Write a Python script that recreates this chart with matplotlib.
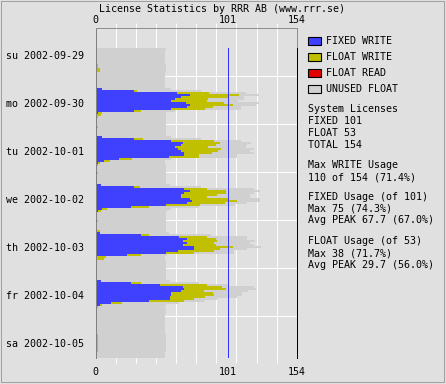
import numpy as np
import matplotlib.pyplot as plt
from matplotlib.patches import Rectangle

W, H = 446, 384

days = ["su 2002-09-29", "mo 2002-09-30", "tu 2002-10-01", "we 2002-10-02",
        "th 2002-10-03", "fr 2002-10-04", "sa 2002-10-05"]
first_hour = 10  # hourly samples start sunday 10:00

fixed_licenses = 101
float_licenses = 53

# licenses in use per hour, one line per day
fixed_write = [
    1, 0, 0, 0, 0, 0, 0, 0, 1, 1, 1, 1, 0, 0,  # su 10-23
    0, 0, 0, 0, 0, 0, 5, 29, 62, 72, 65, 61, 58, 69, 72, 70, 58, 29, 2, 1, 1, 1, 1, 1,
    1, 1, 1, 1, 1, 1, 5, 29, 58, 67, 65, 61, 63, 65, 68, 68, 56, 18, 6, 2, 1, 1, 1, 1,
    1, 1, 1, 1, 1, 1, 4, 29, 68, 72, 68, 65, 65, 72, 74, 70, 54, 27, 5, 2, 1, 1, 1, 1,
    1, 1, 1, 1, 1, 1, 3, 35, 64, 70, 67, 70, 67, 75, 75, 63, 54, 24, 1, 1, 1, 1, 1, 1,
    1, 1, 1, 1, 1, 1, 4, 27, 49, 67, 68, 65, 58, 58, 57, 57, 41, 12, 3, 1, 1, 1, 1, 0,
    0, 0, 0, 0, 0, 0, 0, 0, 0, 1, 1, 1, 1, 1, 1, 1, 1, 1, 0, 0, 0,  # sa 0-20
]
float_write = [
    0, 1, 1, 1, 1, 1, 1, 0, 1, 1, 2, 2, 0, 0,
    0, 0, 1, 0, 0, 0, 0, 3, 25, 38, 36, 25, 27, 29, 33, 20, 26, 6, 3, 3, 1, 0, 0, 0,
    0, 1, 0, 0, 0, 0, 0, 7, 33, 28, 27, 25, 33, 29, 21, 11, 23, 10, 5, 1, 1, 0, 0, 0,
    1, 0, 0, 0, 0, 0, 0, 5, 17, 28, 32, 28, 20, 30, 34, 29, 26, 14, 4, 2, 0, 0, 0, 0,
    1, 0, 0, 0, 0, 2, 0, 6, 21, 22, 26, 21, 25, 30, 20, 28, 21, 11, 7, 5, 0, 0, 0, 0,
    0, 0, 0, 0, 0, 0, 0, 8, 36, 30, 32, 18, 32, 33, 27, 18, 27, 8, 2, 1, 0, 0, 0, 0,
    0, 0, 0, 0, 0, 0, 0, 0, 0, 1, 1, 1, 1, 1, 1, 1, 1, 1, 0, 0, 0,
]
unused_float = [
    53, 52, 52, 52, 52, 52, 52, 53, 52, 52, 51, 51, 53, 53,
    53, 53, 52, 53, 53, 53, 53, 49, 28, 15, 13, 28, 24, 27, 18, 21, 27, 26, 49, 50, 52, 53, 53, 53,
    53, 52, 53, 53, 53, 53, 53, 45, 20, 24, 24, 29, 25, 24, 32, 29, 29, 30, 42, 50, 52, 53, 53, 53,
    52, 53, 53, 53, 53, 53, 53, 47, 36, 26, 21, 25, 33, 24, 18, 17, 27, 38, 49, 51, 53, 53, 53, 53,
    52, 53, 53, 53, 53, 51, 53, 47, 31, 24, 29, 27, 29, 22, 21, 15, 31, 20, 45, 47, 53, 53, 53, 53,
    53, 53, 53, 53, 53, 53, 53, 44, 16, 24, 23, 34, 22, 21, 24, 18, 15, 44, 49, 51, 53, 53, 53, 53,
    53, 53, 53, 53, 53, 53, 53, 53, 53, 52, 52, 52, 52, 52, 52, 52, 52, 52, 53, 53, 53,
]

series_names = ["FIXED WRITE", "FLOAT WRITE", "FLOAT READ", "UNUSED FLOAT"]
series_colors = ["#4040ff", "#c0c000", "#e00000", "#d0d0d0"]

stats_lines = [
    ("System Licenses", 112), ("FIXED %d" % fixed_licenses, 124),
    ("FLOAT %d" % float_licenses, 136), ("TOTAL %d" % (fixed_licenses + float_licenses), 148),
    ("Max WRITE Usage", 168), ("110 of 154 (71.4%)", 180),
    ("FIXED Usage (of %d)" % fixed_licenses, 200), ("Max 75 (74.3%)", 211.7),
    ("Avg PEAK 67.7 (67.0%)", 223.3),
    ("FLOAT Usage (of %d)" % float_licenses, 244.3), ("Max 38 (71.7%)", 256),
    ("Avg PEAK 29.7 (56.0%)", 268.3),
]

plt.rcParams['font.family'] = 'DejaVu Sans Mono'
plt.rcParams['font.size'] = 7.2
bg = "#e0e0e0"
px = 0.72  # one pixel in points

fig = plt.figure(figsize=(W / 100, H / 100), dpi=100, facecolor=bg)
ax = fig.add_axes([95.7 / W, 1 - 358 / H, 201 / W, 330 / H], facecolor=bg)

fixed = np.array(fixed_write, dtype=float)
flt = np.array(float_write, dtype=float)
unused = np.array(unused_float, dtype=float)
hours = np.arange(len(fixed)) + first_hour
total_hours = hours[-1] + 1

ax.barh(hours + 0.5, fixed, height=1.0, color=series_colors[0], lw=0, antialiased=False)
ax.barh(hours + 0.5, flt, left=fixed, height=1.0, color=series_colors[1], lw=0, antialiased=False)
ax.barh(hours + 0.5, unused, left=fixed + flt, height=1.0, color=series_colors[3], lw=0,
        antialiased=False)

total = fixed_licenses + float_licenses
ax.plot([fixed_licenses, fixed_licenses], [first_hour, total_hours], color="#3030ff", lw=px,
        antialiased=False, zorder=4)
ax.plot([total, total], [first_hour, total_hours], color="black", lw=px,
        clip_on=False, zorder=5, antialiased=False)

ax.set_xlim(0, total)
ax.set_ylim(total_hours, 0)

grid_x = np.linspace(0, total, 11)
ax.set_xticks([0, fixed_licenses, total])
ax.set_xticks(grid_x, minor=True)
ax.set_yticks(np.arange(len(days)) * 24 + 13.5)
ax.set_yticklabels(days)
ax.set_yticks(np.arange(1, len(days)) * 24, minor=True)
ax.set_axisbelow(True)
ax.grid(which="minor", color="white", lw=px)

ax.tick_params(axis="x", which="major", length=0, pad=6.8, bottom=True, top=False,
               labelbottom=True, labeltop=False)
ax.tick_params(axis="x", which="minor", length=3.6, width=px, color="white",
               bottom=True, top=True, direction="out")
ax.tick_params(axis="y", which="both", length=0, pad=8.4)

sec = ax.secondary_xaxis("top")
sec.set_xticks([0, fixed_licenses, total])
sec.tick_params(axis="x", which="major", length=0, pad=2.2)
sec.spines["top"].set_visible(False)

for side in ["top", "right"]:
    ax.spines[side].set_color("#909090")
    ax.spines[side].set_linewidth(px)
ax.spines["left"].set_color("#808080")
ax.spines["left"].set_linewidth(px)
ax.spines["bottom"].set_visible(False)

fig.text(222 / W, 1 - 12.5 / H, "License Statistics by RRR AB (www.rrr.se)",
         ha="center", va="baseline")

# legend
for i, (name, color) in enumerate(zip(series_names, series_colors)):
    base = 44 + 16 * i
    fig.add_artist(Rectangle((308 / W, 1 - (base + 0.7) / H), 13 / W, 7.3 / H,
                             facecolor=color, edgecolor="black", lw=0.8,
                             transform=fig.transFigure))
    fig.text(325.7 / W, 1 - base / H, name, va="baseline")

for text, base in stats_lines:
    fig.text(307.7 / W, 1 - base / H, text, va="baseline")

fig.add_artist(Rectangle((0.5 / W, 2.5 / H), 443 / W, 381 / H, fill=False,
                         edgecolor="#a0a0a0", lw=px, transform=fig.transFigure))

fig.savefig("out.png", dpi=100, facecolor=bg)
